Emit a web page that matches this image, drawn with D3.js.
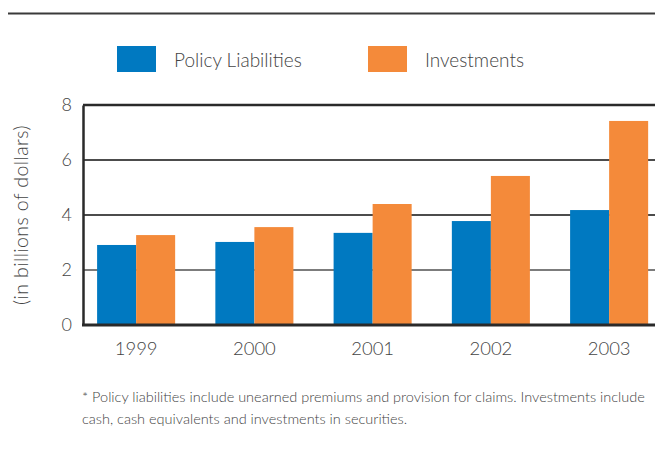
<!DOCTYPE html>
<html>
<head>
<meta charset="utf-8">
<script src="https://cdn.jsdelivr.net/npm/d3@7"></script>
<style>
  html, body { margin: 0; padding: 0; background: #fff; }
  svg { display: block; font-family: Lato, "Open Sans", sans-serif; }
</style>
</head>
<body>
<svg id="chart" width="655" height="453"></svg>
<script>
// Data (billions of dollars)
const years = ["1999", "2000", "2001", "2002", "2003"];
const policyLiabilities = [2.91, 3.02, 3.35, 3.78, 4.18];
const investments = [3.27, 3.56, 4.40, 5.42, 7.42];
const seriesNames = ["Policy Liabilities", "Investments"];
const seriesColors = ["#0079c1", "#f48a3a"];
const yTicks = [0, 2, 4, 6, 8];

const svg = d3.select("#chart");

const plotLeft = 83, plotRight = 655, plotTop = 105, plotBottom = 325;

const y = d3.scaleLinear().domain([0, 8]).range([plotBottom, plotTop]);
const x = d3.scaleBand().domain(years).range([77, 668.25])
  .paddingInner(0.34).paddingOuter(0.17);
const xs = d3.scaleBand().domain(seriesNames).range([0, x.bandwidth()]);

// Top rule
svg.append("line").attr("x1", 8).attr("x2", 655).attr("y1", 13.5).attr("y2", 13.5)
  .attr("stroke", "#3a3a3a").attr("stroke-width", 2);

// Legend
const legend = svg.append("g");
const legendX = [117, 368];
seriesNames.forEach((name, i) => {
  legend.append("rect").attr("x", legendX[i]).attr("y", 46).attr("width", 39).attr("height", 26)
    .attr("fill", seriesColors[i]);
  legend.append("text").attr("x", legendX[i] + 57).attr("y", 67)
    .attr("font-size", 19).attr("font-weight", 300).attr("fill", "#444").text(name);
});

// Horizontal grid lines
svg.append("g").selectAll("line").data(yTicks.filter(d => d > 0)).join("line")
  .attr("x1", plotLeft).attr("x2", plotRight)
  .attr("y1", d => y(d)).attr("y2", d => y(d))
  .attr("stroke", d => d === 8 ? "#2a2a2a" : (d === 2 ? "#505050" : "#111"))
  .attr("stroke-width", d => d === 8 ? 2.5 : 1.6);

// Bars
const groups = svg.append("g").selectAll("g").data(years).join("g")
  .attr("transform", d => `translate(${x(d)},0)`);
groups.selectAll("rect")
  .data((d, i) => [
    { name: seriesNames[0], value: policyLiabilities[i] },
    { name: seriesNames[1], value: investments[i] }
  ])
  .join("rect")
  .attr("x", d => xs(d.name))
  .attr("width", xs.bandwidth())
  .attr("y", d => y(d.value))
  .attr("height", d => y(0) - y(d.value))
  .attr("fill", (d, i) => seriesColors[i]);

// Y axis
const yAxis = svg.append("g").attr("transform", `translate(${plotLeft},0)`)
  .call(d3.axisLeft(y).tickValues(yTicks).tickSize(0).tickPadding(11));
yAxis.select(".domain").attr("stroke", "#2a2a2a").attr("stroke-width", 2.5);
yAxis.selectAll("text").attr("font-size", 18).attr("font-weight", 300)
  .attr("fill", "#444").attr("font-family", "Lato, sans-serif");

// X axis
const xAxis = svg.append("g").attr("transform", `translate(0,${plotBottom})`)
  .call(d3.axisBottom(x).tickSize(0).tickPadding(17));
xAxis.select(".domain").remove();
svg.append("line").attr("x1", plotLeft - 1).attr("x2", plotRight)
  .attr("y1", plotBottom).attr("y2", plotBottom)
  .attr("stroke", "#2a2a2a").attr("stroke-width", 3);
xAxis.selectAll("text").attr("font-size", 18.5).attr("font-weight", 300)
  .attr("fill", "#444").attr("font-family", "Lato, sans-serif");

// Y axis title
svg.append("text")
  .attr("transform", `translate(28,${(plotTop + plotBottom) / 2}) rotate(-90)`)
  .attr("text-anchor", "middle").attr("font-size", 19.5).attr("font-weight", 300)
  .attr("letter-spacing", 0.4)
  .attr("fill", "#444").text("(in billions of dollars)");

// Footnote
const note = svg.append("text").attr("font-size", 14.5).attr("font-weight", 300).attr("fill", "#444");
note.append("tspan").attr("x", 82).attr("y", 402)
  .text("* Policy liabilities include unearned premiums and provision for claims. Investments include");
note.append("tspan").attr("x", 82).attr("y", 424)
  .text("cash, cash equivalents and investments in securities.");
</script>
</body>
</html>
